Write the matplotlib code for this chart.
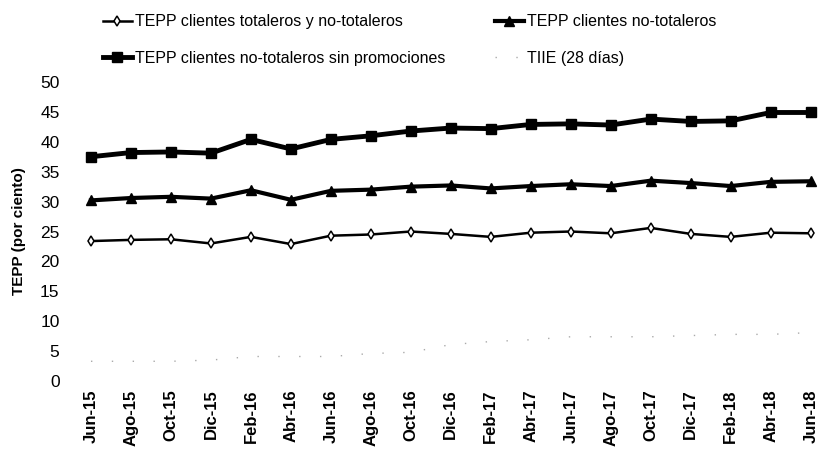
import matplotlib.pyplot as plt
import numpy as np

months = ['Jun-15', 'Ago-15', 'Oct-15', 'Dic-15', 'Feb-16', 'Abr-16', 'Jun-16',
          'Ago-16', 'Oct-16', 'Dic-16', 'Feb-17', 'Abr-17', 'Jun-17', 'Ago-17',
          'Oct-17', 'Dic-17', 'Feb-18', 'Abr-18', 'Jun-18']
totaleros = [23.4, 23.6, 23.7, 23.0, 24.1, 22.9, 24.3, 24.5, 25.0, 24.6,
             24.1, 24.8, 25.0, 24.7, 25.6, 24.6, 24.1, 24.8, 24.7]
no_totaleros = [30.2, 30.6, 30.8, 30.5, 31.9, 30.3, 31.8, 32.0, 32.5, 32.7,
                32.2, 32.6, 32.9, 32.6, 33.5, 33.1, 32.6, 33.3, 33.4]
sin_promo = [37.5, 38.2, 38.3, 38.1, 40.4, 38.8, 40.4, 41.0, 41.8, 42.3,
             42.2, 42.9, 43.0, 42.8, 43.8, 43.4, 43.5, 44.9, 44.9]
tiie = [3.3, 3.3, 3.3, 3.5, 4.1, 4.1, 4.1, 4.6, 4.8, 6.1,
        6.6, 6.9, 7.4, 7.4, 7.4, 7.6, 7.8, 7.8, 8.1]

x = np.arange(len(months))

fig = plt.figure(figsize=(8.21, 4.49), dpi=100)
ax = fig.add_axes([0.0962, 0.1514, 0.901, 0.666])

h1, = ax.plot(x, totaleros, color='black', lw=1.8, marker='d', ms=5.5,
              mfc='white', mec='black', mew=1.1,
              label='TEPP clientes totaleros y no-totaleros')
h2, = ax.plot(x, no_totaleros, color='black', lw=3, marker='^', ms=6.5,
              label='TEPP clientes no-totaleros')
h3, = ax.plot(x, sin_promo, color='black', lw=3.5, marker='s', ms=6.5,
              label='TEPP clientes no-totaleros sin promociones')
h4, = ax.plot(x, tiie, color='#aaaaaa', lw=1, ls=(0, (1, 14)),
              label='TIIE (28 días)')

ax.set_xlim(-0.3, 18.2)
ax.set_ylim(0, 50)
ax.set_yticks(np.arange(0, 51, 5))
ax.set_xticks(x)
ax.set_xticklabels(months, rotation=90, fontsize=12, fontweight='bold',
                   family='Liberation Sans')
for lab in ax.get_yticklabels():
    lab.set_fontsize(12.5)
    lab.set_family('Liberation Sans')
ax.tick_params(length=0, pad=14)
ax.tick_params(axis='x', pad=6)
for s in ax.spines.values():
    s.set_visible(False)
ax.set_ylabel('TEPP (por ciento)', fontsize=11, fontweight='bold',
              family='Liberation Sans', labelpad=10)

fig.legend(handles=[h1, h3, h2, h4], ncol=2, loc='upper left',
           bbox_to_anchor=(0.108, 1.0), frameon=False,
           prop={'family': 'Liberation Sans', 'size': 11.5},
           handlelength=1.8, handletextpad=0.2, columnspacing=3.1,
           labelspacing=1.35)

plt.savefig('out.png', dpi=100)
